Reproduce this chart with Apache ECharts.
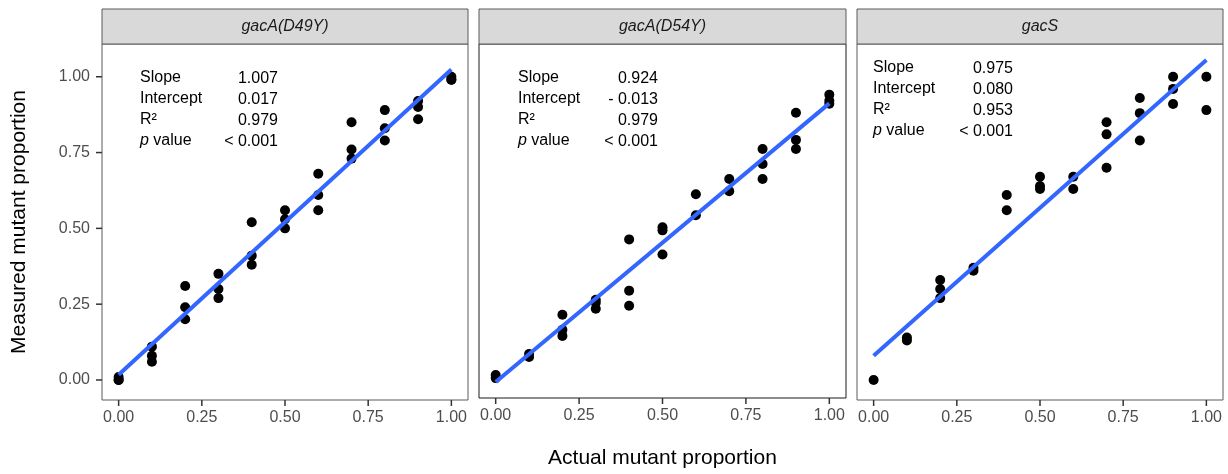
<!DOCTYPE html>
<html>
<head>
<meta charset="utf-8">
<script src="https://cdn.jsdelivr.net/npm/echarts@6/dist/echarts.min.js"></script>
<style>
  html, body { margin: 0; padding: 0; background: #fff; }
  #chart { width: 1228px; height: 474px; }
</style>
</head>
<body>
<div id="chart"></div>
<script>
// actual proportions (x) and the measured replicates at each level, per mutant
var actualLevels = [0, 0.1, 0.2, 0.3, 0.4, 0.5, 0.6, 0.7, 0.8, 0.9, 1.0];
var d49yMeasured = [
  [0, 0.01, 0], [0.11, 0.08, 0.06], [0.31, 0.24, 0.20], [0.35, 0.30, 0.27],
  [0.52, 0.41, 0.38], [0.56, 0.53, 0.50], [0.68, 0.61, 0.56], [0.85, 0.76, 0.73],
  [0.89, 0.83, 0.79], [0.92, 0.90, 0.86], [1.0, 0.99, 0.99]
];
var d54yMeasured = [
  [0.01, 0], [0.08, 0.07], [0.21, 0.16, 0.14], [0.26, 0.25, 0.23],
  [0.46, 0.29, 0.24], [0.50, 0.49, 0.41], [0.61, 0.54], [0.66, 0.62],
  [0.76, 0.71, 0.66], [0.88, 0.79, 0.76], [0.94, 0.92, 0.91]
];
var gacSMeasured = [
  [0], [0.14, 0.13], [0.33, 0.30, 0.27], [0.37, 0.36],
  [0.61, 0.56], [0.67, 0.64, 0.63], [0.67, 0.63], [0.85, 0.81, 0.70],
  [0.93, 0.88, 0.79], [1.0, 0.96, 0.91], [1.0, 0.89]
];

var panelNames = ['gacA(D49Y)', 'gacA(D54Y)', 'gacS'];
var slopes = [1.007, 0.924, 0.975];
var intercepts = [0.017, -0.013, 0.080];
var slopeLabels = ['1.007', '0.924', '0.975'];
var interceptLabels = ['0.017', '- 0.013', '0.080'];
var r2Labels = ['0.979', '0.979', '0.953'];
var pLabels = ['< 0.001', '< 0.001', '< 0.001'];
var xTicks = [0, 0.25, 0.5, 0.75, 1];
var yTicks = [0, 0.25, 0.5, 0.75, 1];

var measured = [d49yMeasured, d54yMeasured, gacSMeasured];

// axis extents (ggplot-style 5% padding)
var X_MIN = -0.05, X_MAX = 1.05, Y_MIN = -0.066, Y_MAX = 1.108;

// layout (pixels)
var panelLeft = [102, 479, 857];
var panelWidth = [366, 367, 366];
var panelTop = 44, panelHeight = 356;
var borderColors = ['#5a5a5a', '#1a1a1a', '#5a5a5a'];
var statLeft = [140, 518, 873];
var statRight = [278, 658, 1013];
var statTop = [78, 78, 68];
var FONT = '"Liberation Sans", Arial, sans-serif';
var TICK_LEN = 6;

var grids = [], xAxes = [], yAxes = [], series = [], graphics = [];

for (var p = 0; p < 3; p++) {
  grids.push({
    left: panelLeft[p], top: panelTop, width: panelWidth[p], height: panelHeight,
    show: true, borderColor: borderColors[p], borderWidth: 1
  });
  xAxes.push({
    gridIndex: p, type: 'value', min: X_MIN, max: X_MAX, position: 'bottom',
    axisLine: { show: false, onZero: false },
    splitLine: { show: false },
    axisTick: { show: false },
    axisLabel: {
      customValues: xTicks, fontSize: 16, color: '#4d4d4d', fontFamily: FONT, margin: 10,
      formatter: function (v) { return v.toFixed(2); }
    },
    name: p === 1 ? 'Actual mutant proportion' : '',
    nameLocation: 'middle', nameGap: 50,
    nameTextStyle: { fontSize: 21, color: '#000', fontFamily: FONT }
  });
  yAxes.push({
    gridIndex: p, type: 'value', min: Y_MIN, max: Y_MAX, position: 'left',
    axisLine: { show: false, onZero: false },
    splitLine: { show: false },
    axisTick: { show: false },
    axisLabel: {
      show: p === 0, customValues: yTicks, fontSize: 16, color: '#4d4d4d', fontFamily: FONT, margin: 12,
      formatter: function (v) { return v.toFixed(2); }
    },
    name: p === 0 ? 'Measured mutant proportion' : '',
    nameLocation: 'middle', nameGap: 72,
    nameTextStyle: { fontSize: 21, color: '#000', fontFamily: FONT }
  });

  var pts = [];
  measured[p].forEach(function (reps, i) {
    reps.forEach(function (v) { pts.push([actualLevels[i], v]); });
  });
  series.push({
    type: 'scatter', xAxisIndex: p, yAxisIndex: p, data: pts,
    symbolSize: 10, itemStyle: { color: '#000', opacity: 1 }, z: 2, silent: true
  });
  series.push({
    type: 'line', xAxisIndex: p, yAxisIndex: p,
    data: [[0, intercepts[p]], [1, intercepts[p] + slopes[p]]],
    showSymbol: false, lineStyle: { color: '#3366FF', width: 4 }, z: 3, silent: true
  });

  // facet strip
  graphics.push({
    type: 'rect', shape: { x: panelLeft[p], y: 9, width: panelWidth[p], height: 35 },
    style: { fill: '#d9d9d9', stroke: '#5a5a5a', lineWidth: 1 }
  });
  graphics.push({
    type: 'text', x: panelLeft[p] + panelWidth[p] / 2, y: 26.5,
    style: {
      text: panelNames[p], fontSize: 16, fontStyle: 'italic', fontFamily: FONT, fill: '#1a1a1a',
      align: 'center', verticalAlign: 'middle'
    }
  });

  // fit statistics
  var labels = ['Slope', 'Intercept', 'R\u00b2', '{i|p} value'];
  var vals = [slopeLabels[p], interceptLabels[p], r2Labels[p], pLabels[p]];
  for (var r = 0; r < 4; r++) {
    graphics.push({
      type: 'text', x: statLeft[p], y: statTop[p] + r * 21,
      style: {
        text: labels[r], fontSize: 16, fontFamily: FONT, fill: '#000',
        align: 'left', verticalAlign: 'middle',
        rich: { i: { fontStyle: 'italic', fontSize: 16, fontFamily: FONT, fill: '#000' } }
      }
    });
    graphics.push({
      type: 'text', x: statRight[p], y: statTop[p] + r * 21 + 1,
      style: {
        text: vals[r], fontSize: 16, fontFamily: FONT, fill: '#000',
        align: 'right', verticalAlign: 'middle'
      }
    });
  }
}

var myChart = echarts.init(document.getElementById('chart'));
myChart.setOption({
  animation: false,
  backgroundColor: '#fff',
  grid: grids,
  xAxis: xAxes,
  yAxis: yAxes,
  series: series
});

// outward ticks, placed through each panel's axis scale
for (var q = 0; q < 3; q++) {
  var finder = { xAxisIndex: q, yAxisIndex: q };
  xTicks.forEach(function (v) {
    var pt = myChart.convertToPixel(finder, [v, Y_MIN]);
    graphics.push({
      type: 'rect', z: 100,
      shape: { x: pt[0] - 0.75, y: pt[1], width: 1.5, height: TICK_LEN },
      style: { fill: '#333' }
    });
  });
  if (q === 0) {
    yTicks.forEach(function (v) {
      var pt = myChart.convertToPixel(finder, [X_MIN, v]);
      graphics.push({
        type: 'rect', z: 100,
        shape: { x: pt[0] - TICK_LEN, y: pt[1] - 0.75, width: TICK_LEN, height: 1.5 },
        style: { fill: '#333' }
      });
    });
  }
}
myChart.setOption({ graphic: graphics });
</script>
</body>
</html>
